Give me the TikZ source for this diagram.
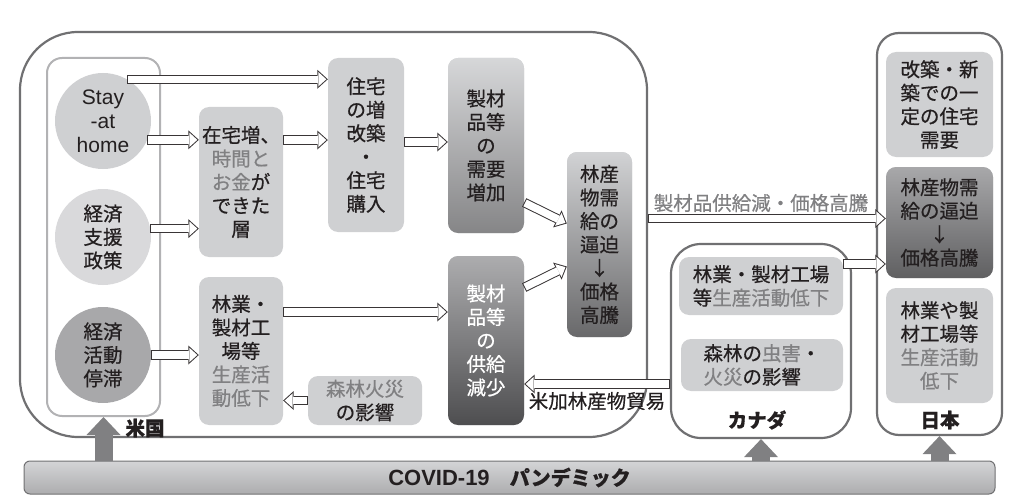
\documentclass[tikz,border=0pt]{standalone}
\usepackage{fontspec}
\setmainfont{Noto Sans CJK JP}[FakeBold=0.6]
\newfontfamily\latinfont{Liberation Sans}
\usepackage{tikz}
\usetikzlibrary{arrows.meta}
\definecolor{ink}{RGB}{35, 31, 32}
\definecolor{fog}{RGB}{128, 128, 130}
\definecolor{silver}{RGB}{207, 208, 210}
\definecolor{stone}{RGB}{168, 168, 170}
\definecolor{ash}{RGB}{112, 112, 114}
\definecolor{mist}{RGB}{178, 178, 180}
\definecolor{slate}{RGB}{128, 128, 130}
\definecolor{graphite}{RGB}{78, 78, 80}
\newcommand{\jpsize}{\fontsize{19.5pt}{23.5pt}\selectfont}
\newcommand{\pale}[1]{\textcolor{fog}{#1}}
\tikzset{
    box/.style={rectangle, rounded corners=10pt, fill=silver, inner sep=0pt, align=center, text=ink, font=\jpsize},
    disc/.style={circle, minimum size=96pt, inner sep=0pt, align=center, text=ink, font=\jpsize},
    region/.style={draw=ash, line width=2.2pt},
    tag/.style={inner sep=0pt, text=ink, font=\jpsize},
    hollow/.style={draw=ink!90, line width=9.5pt, -{Triangle[length=10.5pt, width=19pt, line width=0pt]},
        postaction={draw=white, line width=7.5pt, shorten <=1pt, shorten >=1.48pt,
            -{Triangle[length=8.02pt, width=14.5pt, line width=0pt]}}},
    lift/.style={draw=slate, line width=18pt, -{Triangle[length=18pt, width=34pt, line width=0pt]}}
}
\begin{document}
\begin{tikzpicture}[x=1pt, y=-1pt]
            % Frame to fix the margins:
            \useasboundingbox                                          (0, 0) rectangle (1021, 503);
            \node[region, rounded corners=58pt, minimum width=627pt, minimum height=405pt]     (usa)    at (333.5, 234.5) {};
            \node[region, draw=mist, line width=2pt, rounded corners=15pt, minimum width=113pt, minimum height=358pt] (usin) at (103.5, 237) {};
            \node[region, rounded corners=30pt, minimum width=180pt, minimum height=194pt]     (canada) at (761, 341) {};
            \node[region, rounded corners=22pt, minimum width=125pt, minimum height=402pt]     (japan)  at (939.5, 234) {};
            \node[rectangle, rounded corners=6pt, draw=ash, line width=1pt, top color=silver!90, bottom color=stone!95,
                  minimum width=971pt, minimum height=33pt, inner sep=0pt, text=ink, font=\fontsize{20pt}{24pt}\selectfont\bfseries]
                                                                        (covid)  at (509.5, 477.5) {{\latinfont\fontsize{22pt}{24pt}\selectfont COVID-19}　パンデミック};
            % Pandemic pushes up:
            \draw[lift]  (covid.north -| usin.south)   -- (usin.south);
            \draw[lift]  (covid.north -| canada.south) -- (canada.south);
            \draw[lift]  (covid.north -| japan.south)  -- (japan.south);
            % United States:
            \node[disc, fill=silver, font=\latinfont\fontsize{21pt}{24pt}\selectfont]
                                                                        (stay)   at (103, 121) {Stay\\-at\\home};
            \node[disc, fill=silver!80]                                (aid)    at (103, 237) {経済\\支援\\政策};
            \node[disc, fill=stone]                                    (stall)  at (103, 355) {経済\\活動\\停滞};
            \node[box, minimum width=84pt,  minimum height=150pt]      (home)   at (241, 182) {在宅増、\\\pale{時間と}\\\pale{お金}が\\できた\\層};
            \node[box, minimum width=76pt,  minimum height=174pt]      (reno)   at (366, 145) {住宅\\の増\\改築\\・\\住宅\\購入};
            \node[box, minimum width=84pt,  minimum height=148pt]      (mill)   at (241, 351) {林業・\\製材工\\場等\\\pale{生産活}\\\pale{動低下}};
            \node[box, minimum width=114pt, minimum height=49pt]       (fire)   at (365, 400.5) {\pale{森林火災}\\の影響};
            \node[box, minimum width=76pt,  minimum height=175pt, top color=silver!85, bottom color=ash!85]
                                                                        (dem)    at (486, 145.5) {製材\\品等\\の\\需要\\増加};
            \node[box, minimum width=76pt,  minimum height=169pt, top color=stone!95, bottom color=graphite, text=white]
                                                                        (sup)    at (486, 340.5) {製材\\品等\\の\\供給\\減少};
            \node[box, minimum width=65pt,  minimum height=185pt, top color=silver!95, bottom color=graphite!85]
                                                                        (tight)  at (599.5, 244.5) {林産\\物需\\給の\\逼迫\\↓\\価格\\高騰};
            \node[tag, font=\jpsize\bfseries]                          (usname) at (145, 428) {米国};
            % Canada:
            \node[box, minimum width=164pt, minimum height=58pt]       (camill) at (761, 286) {林業・製材工場\\等\pale{生産活動低下}};
            \node[box, minimum width=162pt, minimum height=52pt, align=left] (cafire) at (762, 365) {森林の\pale{虫害}・\\\pale{火災}の影響};
            \node[tag, font=\jpsize\bfseries]                          (caname) at (757, 420) {カナダ};
            % Japan:
            \node[box, minimum width=107pt, minimum height=105pt]      (jdem)   at (939.5, 104.5) {改築・新\\築での一\\定の住宅\\需要};
            \node[box, minimum width=107pt, minimum height=111pt, top color=stone, bottom color=graphite!90]
                                                                        (jtight) at (939.5, 222.5) {林産物需\\給の逼迫\\↓\\価格高騰};
            \node[box, minimum width=107pt, minimum height=115pt]      (jmill)  at (939.5, 345.5) {林業や製\\材工場等\\\pale{生産活動}\\\pale{低下}};
            \node[tag, font=\jpsize\bfseries]                          (jpname) at (940, 420) {日本};
            % Trade labels:
            \node[tag, text=fog]                                       (export) at (761, 203) {製材品供給減・価格高騰};
            \node[tag]                                                 (trade)  at (597, 401) {米加林産物貿易};
            % Hollow arrows:
            \draw[hollow] (stay.60)                 -- (stay.60 -| reno.west);
            \draw[hollow] (stay.-23)                -- (stay.-23 -| home.west);
            \draw[hollow] (aid.10)                  -- (aid.10 -| home.west);
            \draw[hollow] (stall.east)              -- (stall.east -| mill.west);
            \draw[hollow] ([yshift=42pt]home.east)  -- ([yshift=42pt]home.east -| reno.west);
            \draw[hollow] ([yshift=3pt]reno.east)   -- ([yshift=3pt]reno.east -| dem.west);
            \draw[hollow] ([yshift=39pt]mill.east)  -- ([yshift=39pt]mill.east -| sup.west);
            \draw[hollow] (fire.west)               -- (fire.west -| mill.east);
            \draw[hollow] ([yshift=-57pt]dem.east)  -- ([yshift=21pt]tight.west);
            \draw[hollow] ([yshift=53pt]sup.east)   -- ([yshift=-22pt]tight.west);
            \draw[hollow] ([yshift=4pt]jtight.west -| usa.east) -- ([yshift=4pt]jtight.west);
            \draw[hollow] ([yshift=22pt]camill.east) -- ([yshift=22pt]camill.east -| jtight.west);
            \draw[hollow] ([yshift=-43pt]canada.west) -- ([yshift=-43pt]canada.west -| sup.east);
\end{tikzpicture}
\end{document}
